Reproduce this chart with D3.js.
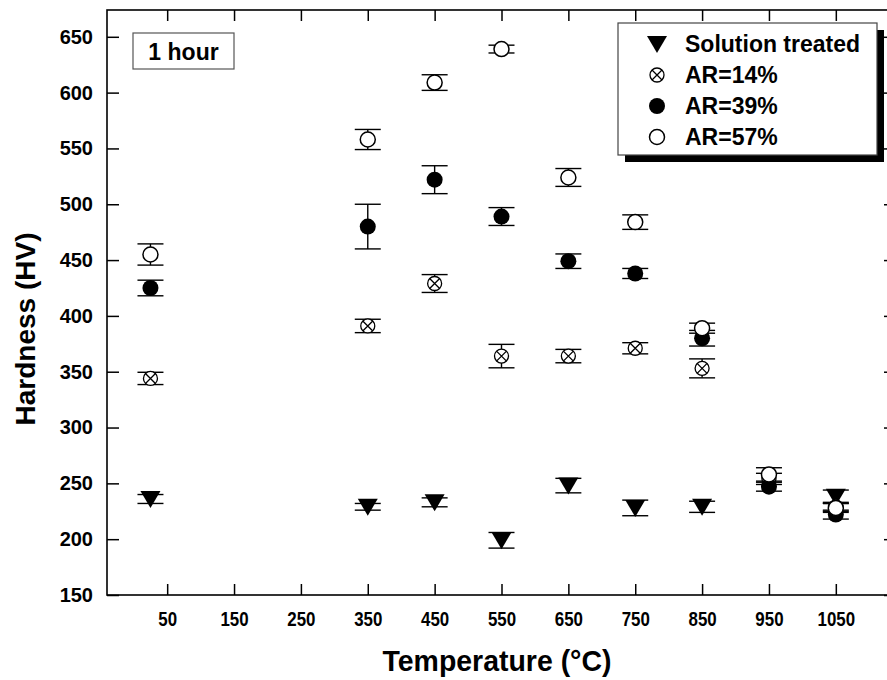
<!DOCTYPE html>
<html>
<head>
<meta charset="utf-8">
<script src="https://cdn.jsdelivr.net/npm/d3@7"></script>
<style>
  body { margin: 0; background: #fff; }
  text { font-family: "Liberation Sans", Arial, sans-serif; font-weight: bold; fill: #000; }
</style>
</head>
<body>
<div id="chart"></div>
<script>
const width = 887;
const height = 680;

// temperature (°C) of each measurement, 25 = as rolled / room temperature
const temps = [25, 350, 450, 550, 650, 750, 850, 950, 1050];

const solutionTreated = [236, 229, 233, 199, 248, 228, 229, null, 238];
const solutionTreatedErr = [4, 3, 4, 7, 6.5, 7, 5, null, 6];
const ar14 = [344, 391, 429, 364, 364, 371, 353, 254, 229];
const ar14Err = [5.5, 6, 8, 10.5, 6, 5, 8.5, 5, 4];
const ar39 = [425, 480, 522, 489, 449, 438, 380, 247, 222];
const ar39Err = [7, 20, 12.5, 8, 6.5, 4.5, 7, 4, 4];
const ar57 = [455, 558, 609, 639, 524, 484, 389, 258, 228];
const ar57Err = [9.5, 9, 7, 3.5, 8, 6.5, 4.5, 6, 4];

const xTicks = [50, 150, 250, 350, 450, 550, 650, 750, 850, 950, 1050];
const yTicks = [150, 200, 250, 300, 350, 400, 450, 500, 550, 600, 650];

const seriesNames = ["Solution treated", "AR=14%", "AR=39%", "AR=57%"];
const seriesKeys = ["tri", "cross", "filled", "open"];

const plotL = 107, plotR = 896, plotT = 10, plotB = 595;

var svg = d3.select("#chart")
    .append("svg")
    .attr("width", width)
    .attr("height", height)

const x = d3.scaleLinear().domain([-40, 1140]).range([plotL, plotR]);
const y = d3.scaleLinear().domain([150, 674]).range([plotB, plotT]);

// frame
svg.append("rect")
    .attr("x", plotL).attr("y", plotT)
    .attr("width", plotR - plotL).attr("height", plotB - plotT)
    .attr("fill", "none").attr("stroke", "#000").attr("stroke-width", 1.6);

// axes, ticks pointing inside
const xAxis = svg.append("g")
    .attr("transform", `translate(0,${plotB})`)
    .call(d3.axisBottom(x).tickValues(xTicks).tickFormat(d3.format("d"))
        .tickSizeInner(-11).tickSizeOuter(0).tickPadding(16));
const yAxis = svg.append("g")
    .attr("transform", `translate(${plotL},0)`)
    .call(d3.axisLeft(y).tickValues(yTicks).tickSizeInner(-12).tickSizeOuter(0).tickPadding(14));
svg.append("g")
    .attr("transform", `translate(0,${plotT})`)
    .call(d3.axisTop(x).tickValues(xTicks).tickSizeInner(-11).tickSizeOuter(0).tickFormat(""));
svg.append("g")
    .attr("transform", `translate(${plotR},0)`)
    .call(d3.axisRight(y).tickValues(yTicks).tickSizeInner(-12).tickSizeOuter(0).tickFormat(""));

svg.selectAll(".domain").remove();
svg.selectAll(".tick line").attr("stroke", "#000").attr("stroke-width", 1.5);

// x labels look condensed in the original
xAxis.selectAll(".tick text")
    .style("font-size", "21px")
    .attr("lengthAdjust", "spacingAndGlyphs")
    .each(function(d) {
        d3.select(this).attr("textLength", String(d).length * 9.4);
    });
yAxis.selectAll(".tick text").style("font-size", "20px");

// axis titles
svg.append("text")
    .attr("x", 497).attr("y", 671)
    .attr("text-anchor", "middle")
    .style("font-size", "30px")
    .attr("textLength", 229)
    .attr("lengthAdjust", "spacingAndGlyphs")
    .text("Temperature (°C)");

svg.append("text")
    .attr("transform", "translate(35,329) rotate(-90)")
    .attr("text-anchor", "middle")
    .style("font-size", "28px")
    .text("Hardness (HV)");

// markers
function drawMarker(g, key) {
    if (key === "tri") {
        g.append("path").attr("d", "M-10,-8L10,-8L0,9Z").attr("fill", "#000");
    } else if (key === "cross") {
        g.append("circle").attr("r", 7).attr("fill", "#fff").attr("stroke", "#000").attr("stroke-width", 1.3);
        const k = 5;
        g.append("path").attr("d", `M${-k},${-k}L${k},${k}M${-k},${k}L${k},${-k}`)
            .attr("stroke", "#000").attr("stroke-width", 1.3);
    } else if (key === "filled") {
        g.append("circle").attr("r", 8).attr("fill", "#000");
    } else {
        g.append("circle").attr("r", 7.5).attr("fill", "#fff").attr("stroke", "#000").attr("stroke-width", 1.5);
    }
}

const allSeries = [
    { key: "tri", vals: solutionTreated, errs: solutionTreatedErr },
    { key: "cross", vals: ar14, errs: ar14Err },
    { key: "filled", vals: ar39, errs: ar39Err },
    { key: "open", vals: ar57, errs: ar57Err }
];

const capHalf = 13;

allSeries.forEach(function(s) {
    const pts = temps.map((t, i) => ({ t: t, v: s.vals[i], e: s.errs[i] }))
        .filter(d => d.v !== null);

    const eb = svg.append("g");
    pts.forEach(function(d) {
        const cx = x(d.t);
        const y1 = y(d.v + d.e), y2 = y(d.v - d.e);
        eb.append("line").attr("x1", cx).attr("x2", cx).attr("y1", y1).attr("y2", y2)
            .attr("stroke", "#000").attr("stroke-width", 1.4);
        eb.append("line").attr("x1", cx - capHalf).attr("x2", cx + capHalf).attr("y1", y1).attr("y2", y1)
            .attr("stroke", "#000").attr("stroke-width", 1.4);
        eb.append("line").attr("x1", cx - capHalf).attr("x2", cx + capHalf).attr("y1", y2).attr("y2", y2)
            .attr("stroke", "#000").attr("stroke-width", 1.4);
    });

    pts.forEach(function(d) {
        const g = svg.append("g").attr("transform", `translate(${x(d.t)},${y(d.v)})`);
        drawMarker(g, s.key);
    });
});

// "1 hour" label box
svg.append("rect")
    .attr("x", 133).attr("y", 33).attr("width", 101).attr("height", 36)
    .attr("fill", "#fff").attr("stroke", "#555").attr("stroke-width", 1.2);
svg.append("text")
    .attr("x", 183.5).attr("y", 60)
    .attr("text-anchor", "middle")
    .style("font-size", "23px")
    .text("1 hour");

// legend with drop shadow
const lg = svg.append("g");
lg.append("rect")
    .attr("x", 625).attr("y", 30).attr("width", 259).attr("height", 132)
    .attr("fill", "#000");
lg.append("rect")
    .attr("x", 618).attr("y", 23).attr("width", 259).attr("height", 132)
    .attr("fill", "#fff").attr("stroke", "#444").attr("stroke-width", 1.2);

seriesNames.forEach(function(name, i) {
    const ry = 44 + i * 31;
    const g = lg.append("g").attr("transform", `translate(657,${ry})`);
    drawMarker(g, seriesKeys[i]);
    lg.append("text")
        .attr("x", 685).attr("y", ry + 8)
        .style("font-size", "23px")
        .text(name);
});
</script>
</body>
</html>
